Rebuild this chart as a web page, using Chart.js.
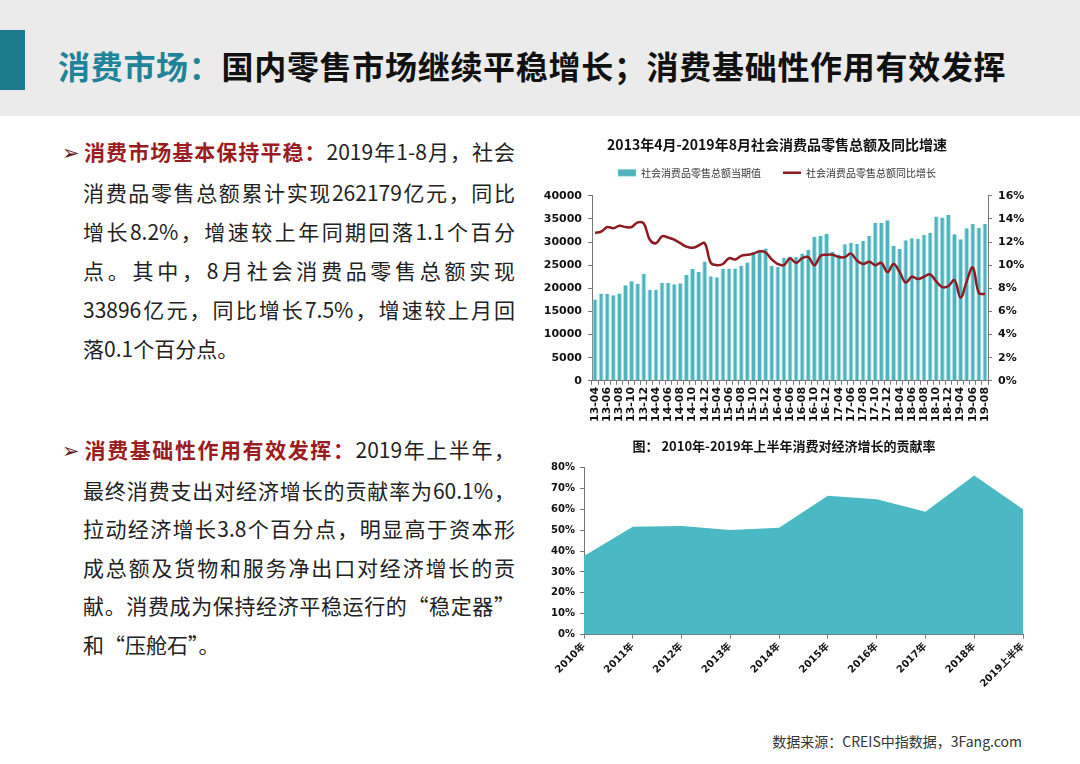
<!DOCTYPE html>
<html lang="zh-CN">
<head>
<meta charset="UTF-8">
<title>消费市场</title>
<script src="https://cdn.jsdelivr.net/npm/chart.js@4.4.1/dist/chart.umd.min.js"></script>
<style>
    html, body { margin: 0; padding: 0; }
    body { width: 1080px; height: 764px; position: relative; overflow: hidden; background: #fff;
           font-family: "Noto Sans CJK SC", sans-serif; color: #222; }
    .header { position: absolute; left: 0; top: 0; width: 1080px; height: 116px; background: #ebebeb; }
    .header .mark { position: absolute; left: 0; top: 30px; width: 25px; height: 60px; background: #1b7b8c; }
    .header h1 { position: absolute; left: 58px; top: 48px; margin: 0; font-size: 32px; line-height: 34px;
                 font-weight: 700; color: #111; letter-spacing: 0.7px; white-space: nowrap; }
    .header h1 span { color: #1f8399; }
    .para { position: absolute; left: 62px; width: 453px; font-size: 21px; line-height: 39px; }
    .para .line { padding-left: 21px; text-align: justify; text-align-last: justify; white-space: nowrap; }
    .para .line.first { padding-left: 0; }
    .para .line.last { text-align-last: left; }
    .para .arrow { display: inline-block; width: 21px; color: #5e2024; font-family: "DejaVu Sans", sans-serif; font-size: 21px; }
    .para b { color: #9b1c20; font-weight: 700; }
    .box { position: absolute; }
    .source { position: absolute; right: 58px; top: 731px; font-size: 14px; color: #333; }
</style>
</head>
<body>
    <div class="header">
        <div class="mark"></div>
        <h1><span>消费市场：</span>国内零售市场继续平稳增长；消费基础性作用有效发挥</h1>
    </div>

    <!-- 左侧文字 -->
    <div class="para" style="top:132px;">
        <div class="line first"><span class="arrow">➢</span><b>消费市场基本保持平稳：</b>2019年1-8月，社会</div>
        <div class="line">消费品零售总额累计实现262179亿元，同比</div>
        <div class="line">增长8.2%，增速较上年同期回落1.1个百分</div>
        <div class="line">点。其中，8月社会消费品零售总额实现</div>
        <div class="line">33896亿元，同比增长7.5%，增速较上月回</div>
        <div class="line last">落0.1个百分点。</div>
    </div>
    <div class="para" style="top:430px; line-height:38.6px;">
        <div class="line first"><span class="arrow">➢</span><b>消费基础性作用有效发挥：</b>2019年上半年，</div>
        <div class="line">最终消费支出对经济增长的贡献率为60.1%，</div>
        <div class="line">拉动经济增长3.8个百分点，明显高于资本形</div>
        <div class="line">成总额及货物和服务净出口对经济增长的贡</div>
        <div class="line">献。消费成为保持经济平稳运行的“稳定器”</div>
        <div class="line last">和“压舱石”。</div>
    </div>

    <!-- 图表 -->
    <div class="box" style="left:530px; top:128px; width:494px; height:296px;">
        <canvas id="salesChart"></canvas>
    </div>
    <div class="box" style="left:545px; top:432px; width:500px; height:260px;">
        <canvas id="shareChart"></canvas>
    </div>

    <div class="source">数据来源：CREIS中指数据，3Fang.com</div>

    <script>
        // 月份（1-2月合并，不单列）
        const monthLabels = [
            '13-04','13-05','13-06','13-07','13-08','13-09','13-10','13-11','13-12',
            '14-03','14-04','14-05','14-06','14-07','14-08','14-09','14-10','14-11','14-12',
            '15-03','15-04','15-05','15-06','15-07','15-08','15-09','15-10','15-11','15-12',
            '16-03','16-04','16-05','16-06','16-07','16-08','16-09','16-10','16-11','16-12',
            '17-03','17-04','17-05','17-06','17-07','17-08','17-09','17-10','17-11','17-12',
            '18-03','18-04','18-05','18-06','18-07','18-08','18-09','18-10','18-11','18-12',
            '19-03','19-04','19-05','19-06','19-07','19-08'
        ];
        // 社会消费品零售总额当期值（亿元）
        const retailSales = [
            17600, 18900, 18800, 18500, 18900, 20650, 21500, 21000, 23100,
            19700, 19700, 21200, 21200, 20900, 21100, 22900, 24200, 23500, 25800,
            22600, 22400, 24200, 24300, 24300, 24900, 25600, 27900, 27900, 28600,
            24800, 24600, 26600, 26900, 26800, 27500, 28300, 31100, 31300, 31800,
            27900, 27300, 29500, 29800, 29600, 30300, 31300, 34200, 34100, 34700,
            29200, 28500, 30400, 30800, 30700, 31500, 32000, 35500, 35300, 35900,
            31700, 30600, 33000, 33900, 33100, 33900
        ];
        // 同比增长（%）
        const retailGrowth = [
            12.8, 12.9, 13.3, 13.2, 13.4, 13.3, 13.3, 13.7, 13.6,
            12.2, 11.9, 12.5, 12.4, 12.2, 11.9, 11.6, 11.5, 11.7, 11.9,
            10.2, 10.0, 10.1, 10.6, 10.5, 10.8, 10.9, 11.0, 11.2, 11.1,
            10.5, 10.1, 10.0, 10.6, 10.2, 10.6, 10.7, 10.0, 10.8, 10.9,
            10.9, 10.7, 10.7, 11.0, 10.4, 10.1, 10.3, 10.0, 10.2, 9.4,
            10.1, 9.4, 8.5, 9.0, 8.8, 9.0, 9.2, 8.6, 8.1, 8.2,
            8.7, 7.2, 8.6, 9.8, 7.6, 7.5
        ];

        const yearLabels = ['2010年','2011年','2012年','2013年','2014年','2015年','2016年','2017年','2018年','2019上半年'];
        // 消费对经济增长的贡献率（%）
        const consumptionShare = [37.6, 51.7, 52.0, 50.1, 51.2, 66.5, 64.8, 58.9, 76.2, 60.1];

        Chart.defaults.font.family = "'Noto Sans CJK SC', sans-serif";
        Chart.defaults.color = '#111';
        Chart.defaults.animation = false;

        const tickFont = (size) => ({ family: "'DejaVu Sans', 'Noto Sans CJK SC', sans-serif", size: size, weight: 'bold' });
        const axisGrid = { drawOnChartArea: false, drawTicks: true, tickLength: 4, color: '#777' };

        // leave a gap under the legend
        const legendGap = {
            id: 'legendGap',
            beforeInit(chart) {
                const fit = chart.legend.fit;
                chart.legend.fit = function () { fit.call(this); this.height += 8; };
            }
        };

        new Chart(document.getElementById('salesChart'), {
            data: {
                labels: monthLabels,
                datasets: [
                    { type: 'bar', label: '社会消费品零售总额当期值', data: retailSales, yAxisID: 'ySales',
                      backgroundColor: '#4fb3be', borderColor: '#a9e4ea', borderWidth: { left: 1, right: 1 },
                      borderSkipped: 'bottom', categoryPercentage: 0.82, barPercentage: 1, order: 1,
                      pointStyle: 'rect' },
                    { type: 'line', label: '社会消费品零售总额同比增长', data: retailGrowth, yAxisID: 'yRate',
                      borderColor: '#8e1b22', backgroundColor: '#8e1b22', borderWidth: 2.5, pointRadius: 0,
                      tension: 0.4, order: 0, pointStyle: 'line' }
                ]
            },
            options: {
                responsive: true,
                maintainAspectRatio: false,
                plugins: {
                    title: { display: true, text: '2013年4月-2019年8月社会消费品零售总额及同比增速',
                             font: { size: 14, weight: 'bold' }, color: '#111', padding: { top: 8, bottom: -7 } },
                    legend: { labels: { usePointStyle: true, pointStyleWidth: 18, boxHeight: 7,
                                        font: { size: 10 }, color: '#333', padding: 22,
                                        sort: (a, b) => a.datasetIndex - b.datasetIndex } },
                    tooltip: { enabled: false }
                },
                scales: {
                    x: {
                        grid: axisGrid,
                        border: { color: '#777' },
                        ticks: { autoSkip: false, minRotation: 90, maxRotation: 90, padding: 2, font: tickFont(11),
                                 callback: function (v, i) { return i % 2 === 0 ? this.getLabelForValue(v) : ''; } }
                    },
                    ySales: {
                        position: 'left', min: 0, max: 40000,
                        grid: axisGrid, border: { color: '#777' },
                        ticks: { stepSize: 5000, font: tickFont(11), padding: 6, callback: (v) => String(v) },
                        afterFit: (s) => { s.width = 62; }
                    },
                    yRate: {
                        position: 'right', min: 0, max: 16,
                        grid: axisGrid, border: { color: '#777' },
                        ticks: { stepSize: 2, font: tickFont(11), padding: 6, callback: (v) => v + '%' },
                        afterFit: (s) => { s.width = 36; }
                    }
                }
            },
            plugins: [legendGap]
        });

        new Chart(document.getElementById('shareChart'), {
            type: 'line',
            data: {
                labels: yearLabels,
                datasets: [
                    { label: '贡献率', data: consumptionShare, fill: 'origin', backgroundColor: '#4bb9c4',
                      borderColor: '#4bb9c4', borderWidth: 0, pointRadius: 0, tension: 0 }
                ]
            },
            options: {
                responsive: true,
                maintainAspectRatio: false,
                layout: { padding: { right: 22 } },
                plugins: {
                    title: { display: true, text: '图： 2010年-2019年上半年消费对经济增长的贡献率',
                             font: { size: 13, weight: 'bold' }, color: '#111', padding: { top: 6, bottom: 14 } },
                    legend: { display: false },
                    tooltip: { enabled: false }
                },
                scales: {
                    x: {
                        offset: false,
                        grid: axisGrid, border: { color: '#777' },
                        ticks: { autoSkip: false, minRotation: 45, maxRotation: 45, padding: 2, font: tickFont(10) }
                    },
                    y: {
                        min: 0, max: 80,
                        grid: axisGrid, border: { color: '#777' },
                        ticks: { stepSize: 10, font: tickFont(10), padding: 5, callback: (v) => v + '%' },
                        afterFit: (s) => { s.width = 39; }
                    }
                }
            }
        });
    </script>
</body>
</html>
